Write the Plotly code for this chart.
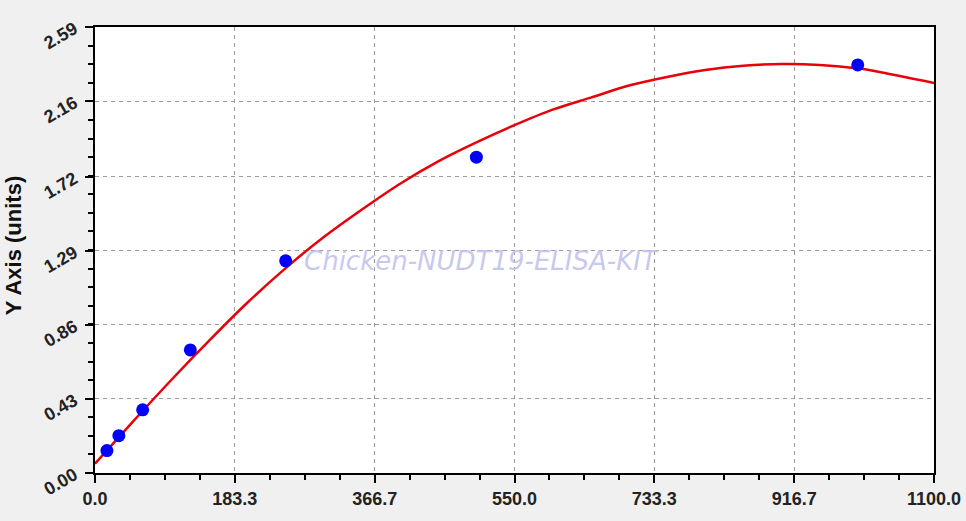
import plotly.graph_objects as go

# standards (concentration) and measured OD
std_conc = [15.63, 31.25, 62.5, 125, 250, 500, 1000]
std_od = [0.130, 0.217, 0.367, 0.715, 1.232, 1.834, 2.37]

# fitted curve
fit_x = [0, 50, 100, 150, 200, 250, 300, 350, 400, 450, 500, 550,
         600, 650, 700, 750, 800, 850, 900, 950, 1000, 1050, 1100]
fit_y = [0.054, 0.30, 0.54, 0.77, 0.99, 1.19, 1.37, 1.53, 1.68, 1.81, 1.92, 2.02,
         2.11, 2.18, 2.25, 2.30, 2.34, 2.365, 2.375, 2.37, 2.35, 2.31, 2.265]

x_ticks = [0, 183.3, 366.7, 550.0, 733.3, 916.7, 1100.0]
y_ticks = [0.00, 0.43, 0.86, 1.29, 1.72, 2.16, 2.59]

tick_font = dict(family="Liberation Sans, Arial", size=18, color="#222222", weight="bold")

fig = go.Figure()

fig.add_trace(go.Scatter(
    x=fit_x, y=fit_y, mode="lines",
    line=dict(color="#e8000b", width=2.5, shape="spline", smoothing=0.8),
    hoverinfo="skip", showlegend=False
))
fig.add_trace(go.Scatter(
    x=std_conc, y=std_od, mode="markers",
    marker=dict(color="#0000ff", size=13),
    showlegend=False
))

fig.add_annotation(
    text="<i>Chicken-NUDT19-ELISA-KIT</i>",
    xref="paper", yref="paper", x=0.461, y=0.475,
    xanchor="center", yanchor="middle", showarrow=False,
    font=dict(family="DejaVu Sans", size=26, color="rgba(190,190,235,0.85)")
)
fig.add_annotation(
    text="<b>Y Axis (units)</b>",
    xref="paper", yref="paper", x=-0.097, y=0.51,
    xanchor="center", yanchor="middle",
    textangle=-90, showarrow=False,
    font=dict(family="Liberation Sans, Arial", size=22, color="#111111")
)

axis_common = dict(
    showline=True, linecolor="black", linewidth=2, mirror=True,
    showgrid=True, gridcolor="#9a9a9a", gridwidth=1, griddash="4px,4px",
    ticks="outside", ticklen=8, tickwidth=1.5, tickcolor="black",
    zeroline=False, tickfont=tick_font, automargin=False,
)

fig.update_xaxes(
    range=[0, 1100],
    tickvals=x_ticks, ticktext=[f"{v:.1f}" for v in x_ticks],
    minor=dict(ticks="outside", ticklen=5, tickcolor="black", dtick=1100 / 24, tick0=0, showgrid=False),
    **axis_common
)
fig.update_yaxes(
    range=[0, 2.59],
    tickvals=y_ticks, ticktext=[f"{v:.2f}" for v in y_ticks],
    tickangle=-30, ticklabelstandoff=7,
    minor=dict(ticks="outside", ticklen=5, tickcolor="black", dtick=2.59 / 24, tick0=0, showgrid=False),
    **axis_common
)

fig.update_layout(
    width=966, height=521,
    paper_bgcolor="#f0f0f0",
    plot_bgcolor="white",
    margin=dict(l=95, r=32, t=27, b=48),
    showlegend=False,
)

fig.write_html(
    "out.html",
    config={"displayModeBar": False},
    post_script="document.body.style.margin='0px';document.body.style.overflow='hidden';"
                "document.documentElement.style.overflow='hidden';",
)
